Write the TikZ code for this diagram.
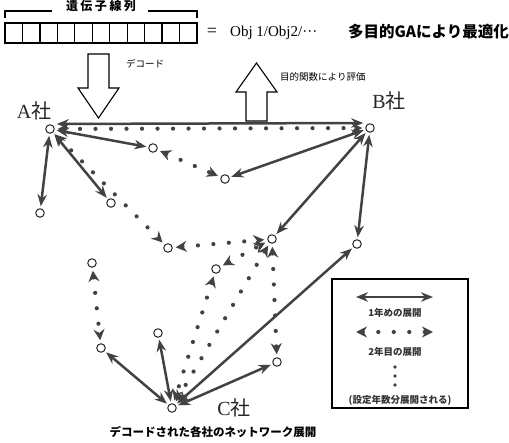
\documentclass[tikz,border=0pt]{standalone}
\usepackage{fontspec}
\setmainfont{Liberation Serif}
\newfontfamily\jp{Noto Sans CJK JP}
\usetikzlibrary{arrows.meta}
\definecolor{ink}{HTML}{424242}
\tikzset{
  nd/.style={circle, draw=black!85, line width=1pt, fill=white, minimum size=8.5pt, inner sep=0pt},
  yearone/.style={draw=ink, line width=2.5pt, {Stealth[length=12pt,width=9.5pt]}-{Stealth[length=12pt,width=9.5pt]}, shorten <=2pt, shorten >=2pt},
  yeartwo/.style={draw=ink, line width=4.2pt, line cap=round, dash pattern=on 0pt off 15.5pt, {Stealth[length=11pt,width=11pt]}-{Stealth[length=11pt,width=11pt]}, shorten <=3pt, shorten >=3pt},
  corp/.style={font=\fontsize{20}{20}\selectfont, text=black!85, inner sep=0pt},
  jlab/.style={font=\jp\fontsize{9.5}{9.5}\selectfont, inner sep=0pt},
  leg/.style={font=\jp\bfseries\fontsize{9.5}{10}\selectfont, text=black!80, inner sep=0pt},
  hollow/.style={draw=black, line width=1.1pt, fill=white, line join=miter},
}
\begin{document}
\begin{tikzpicture}[x=1pt,y=-1pt]
\useasboundingbox (0,0) rectangle (509,443);

% ---- top: gene string ----
\node[font=\jp\bfseries\fontsize{12}{12}\selectfont, inner sep=1pt] (gene) at (101,6) {遺\hspace{2.5pt}伝\hspace{2.5pt}子\hspace{2.5pt}線\hspace{2.5pt}列};
\draw[line width=1.1pt] (5,18) -- (5,11) -- (52,11);
\draw[line width=1.1pt] (148,11) -- (197,11) -- (197,18);
\foreach \i in {0,...,10}
  \draw[line width=1.2pt] (5+\i*17.45,23) rectangle (5+\i*17.45+17.45,43);
\node[font=\fontsize{18}{18}\selectfont] (eq) at (212,32) {=};
\node[font=\fontsize{15}{15}\selectfont, anchor=west, inner sep=0pt] (obj) at (230,33) {Obj 1/Obj2/···};
\node[font=\jp\bfseries\fontsize{15.5}{15.5}\selectfont, anchor=east, inner sep=0pt] (ga) at (509,32) {多目的GAにより最適化};

% ---- hollow arrows ----
\draw[hollow] (88,54) -- (109,54) -- (109,88) -- (119,88) -- (98.5,118) -- (78,88) -- (88,88) -- cycle;
\node[jlab, anchor=west] (dec) at (126,64) {デコード};
\draw[hollow] (246,121) -- (267,121) -- (267,92) -- (277,92) -- (256.5,63) -- (236,92) -- (246,92) -- cycle;
\node[jlab, anchor=west] (eval) at (280,77) {目的関数により評価};

% ---- network nodes ----
\node[nd] (A) at (50,129) {};
\node[nd] (B) at (370,128) {};
\node[nd] (C) at (172,408) {};
\node[nd] (n1) at (153,148) {};
\node[nd] (n2) at (225,179) {};
\node[nd] (n3) at (40,213) {};
\node[nd] (n4) at (111,203) {};
\node[nd] (n5) at (168,248) {};
\node[nd] (n6) at (216,269) {};
\node[nd] (n7) at (272,239) {};
\node[nd] (n8) at (357,244) {};
\node[nd] (n9) at (92,263) {};
\node[nd] (n10) at (101,348) {};
\node[nd] (n11) at (158,333) {};
\node[nd] (n12) at (277,362) {};

\node[corp] (labA) at (34,111) {A{\jp 社}};
\node[corp] (labB) at (389,101) {B{\jp 社}};
\node[corp] (labC) at (234,408) {C{\jp 社}};

% ---- first year (solid) ----
\draw[yearone] ([yshift=5pt]A.east) -- ([yshift=5pt]B.west);
\draw[yearone] (A) -- (n1);
\draw[yearone] (A) -- (n3);
\draw[yearone] (A) -- (n4);
\draw[yearone] (B) -- (n2);
\draw[yearone] (B) -- (n7);
\draw[yearone] (B) -- (n8);
\draw[yearone] (C) -- (n10);
\draw[yearone] (C) -- (n11);
\draw[yearone] (C) -- (n8);
\draw[yearone] (C) -- (n12);

% ---- second year (dotted) ----
\draw[yeartwo] (A) -- (B);
\draw[yeartwo] (n1) -- (n2);
\draw[yeartwo] (A) -- (n5);
\draw[yeartwo] (n5) -- (n7);
\draw[yeartwo] (n6) -- (n7);
\draw[yeartwo] (n6) -- (C);
\draw[yeartwo] (n7) -- (C);
\draw[yeartwo] (n7) -- (n12);
\draw[yeartwo] (n9) -- (n10);

% ---- legend ----
\draw[line width=1.1pt] (332,279) rectangle (468,408);
\coordinate (l1a) at (356,297);
\coordinate (l1b) at (433,297);
\draw[yearone, shorten <=0pt, shorten >=0pt] (l1a) -- (l1b);
\node[leg] (t1) at (395,313) {1年めの展開};
\coordinate (l2a) at (356,332);
\coordinate (l2b) at (433,332);
\draw[yeartwo, shorten <=0pt, shorten >=0pt] (l2a) -- (l2b);
\node[leg] (t2) at (395,352) {2年目の展開};
\foreach \yy in {367,376,385} \fill[ink] (395,\yy) circle (1.8pt);
\node[leg] (t3) at (400,400) {(設定年数分展開される)};

% ---- caption ----
\node[font=\jp\bfseries\fontsize{11.5}{12}\selectfont, inner sep=0pt] (cap) at (213,432) {デコードされた各社のネットワーク展開};
\end{tikzpicture}
\end{document}
